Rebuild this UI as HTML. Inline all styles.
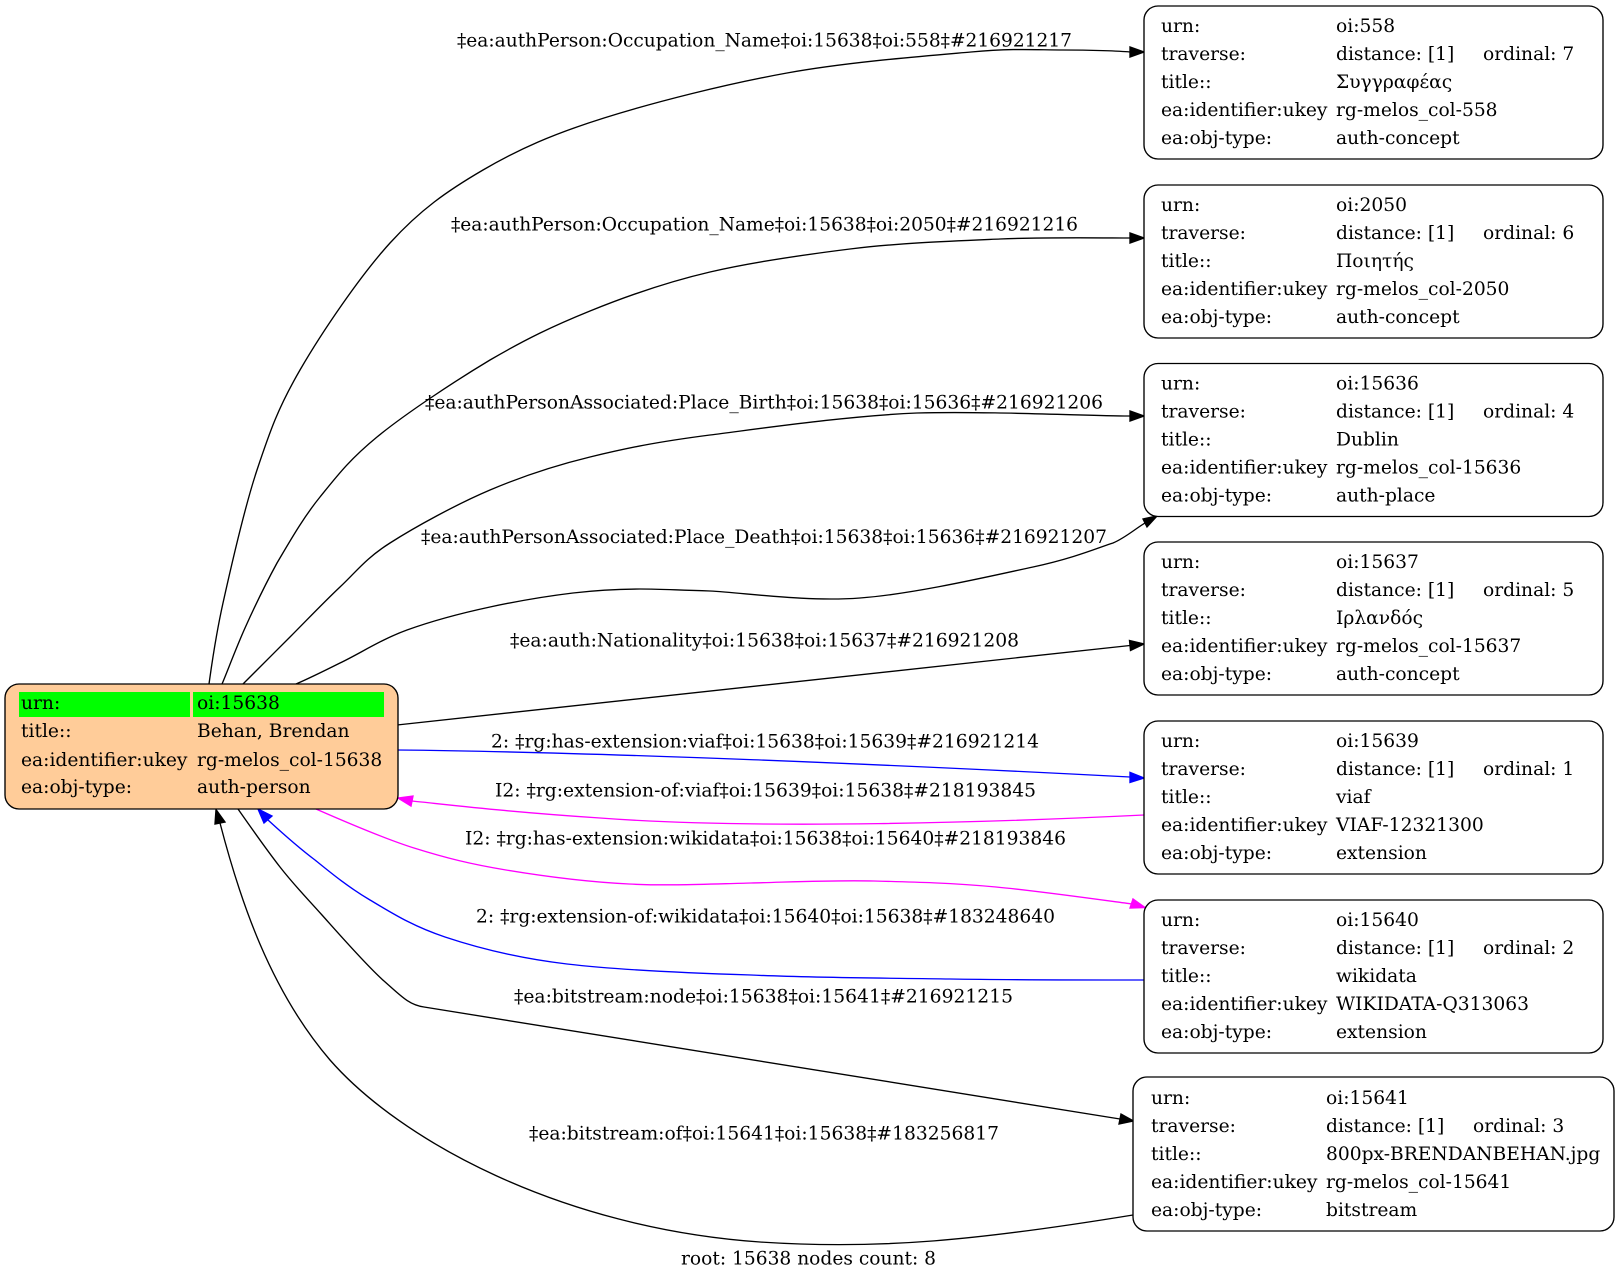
<!DOCTYPE html>
<html>
<head>
<meta charset="utf-8">
<style>
html,body{margin:0;padding:0;background:#fff;}
svg{display:block;}
text{font-family:"DejaVu Serif","Liberation Serif",serif;font-size:18.67px;fill:#000;}
</style>
</head>
<body>
<svg width="1620" height="1280" viewBox="0 0 1620 1280" xmlns="http://www.w3.org/2000/svg">
<rect x="0" y="0" width="1620" height="1280" fill="#fff"/>

<!-- EDGES -->
<g fill="none" stroke-width="1.35">
<!-- 1: 558 -->
<path stroke="#000" d="M209,684 C211,670 215,639 223,603 C231,567 244,509 257,470 C270,431 278,408 300,370 C322,332 360,276 390,243 C420,210 447,191 483,170 C519,149 553,134 604,118 C655,102 726,84 787,73 C848,62 925,56 971,52 C1017,48 1036,50 1063,50 C1090,50 1120,51 1130,52"/>
<!-- 2: 2050 -->
<path stroke="#000" d="M222,684 C226,675 236,648 245,628 C254,608 265,585 277,563 C290,541 303,518 320,497 C337,476 349,460 377,437 C405,414 455,381 490,360 C526,339 553,326 590,311 C627,296 667,282 710,272 C753,262 802,255 850,249 C898,243 953,241 1000,239 C1047,237 1108,238 1130,238"/>
<!-- 3: birth -->
<path stroke="#000" d="M243,684 C251,676 274,653 290,637 C306,621 323,603 340,587 C357,571 365,559 390,543 C415,527 457,504 490,490 C523,476 553,466 590,457 C627,448 656,442 710,435 C765,428 847,416 917,413 C987,411 1094,416 1130,416"/>
<!-- 4: death -->
<path stroke="#000" d="M296,684 C303,681 322,672 340,663 C359,654 382,639 407,630 C432,621 462,613 490,607 C518,601 548,596 573,593 C598,590 617,589 640,589 C663,589 673,590 710,591 C747,593 806,602 860,598 C914,594 991,576 1033,567 C1075,558 1100,547 1113,543 C1125,538 1135,529 1145,523"/>
<!-- 5: nationality -->
<path stroke="#000" d="M397,725 L1130,645.5"/>
<!-- 6: blue viaf -->
<path stroke="#0000ff" d="M397,750 C600,752 900,765 1130,777"/>
<!-- 7: magenta viaf extension-of -->
<path stroke="#ff00ff" d="M1144,815 C1000,822 760,830 600,818 C510,812 460,806 412,801"/>
<!-- 8: magenta wikidata has-extension -->
<path stroke="#ff00ff" d="M316,809 C332,816 382,838 414,848 C446,858 470,864 506,870 C542,876 588,882 629,884 C670,886 710,884 751,883 C792,882 833,880 874,881 C915,882 953,883 996,887 C1039,891 1109,901 1132,904"/>
<!-- 9: blue wikidata extension-of -->
<path stroke="#0000ff" d="M1144,980 C1112,980 1016,980 950,979 C884,978 815,978 751,975 C687,973 618,970 567,964 C516,958 478,948 445,937 C412,926 392,913 370,900 C348,887 331,873 315,860 C299,848 280,831 268,820"/>
<!-- 10: bitstream node -->
<path stroke="#000" d="M238,809 C245,819 266,849 280,867 C294,885 305,896 322,915 C339,934 367,966 384,981 C401,996 409,1005 424,1007 L1120,1119"/>
<!-- 11: bitstream of -->
<path stroke="#000" d="M1133,1215 C980,1240 880,1250 760,1242 C560,1228 400,1140 330,1060 C270,990 240,900 220,823"/>
</g>

<!-- ARROWHEADS -->
<g stroke-width="1.35">
<polygon fill="#000" stroke="#000" points="1144,52 1130,47 1130,57"/>
<polygon fill="#000" stroke="#000" points="1144,238 1130,233 1130,243"/>
<polygon fill="#000" stroke="#000" points="1144,416 1130,411 1130,421"/>
<polygon fill="#000" stroke="#000" points="1157,516 1147,527 1143,519"/>
<polygon fill="#000" stroke="#000" points="1144,644 1130.5,650.5 1129.5,640.5"/>
<polygon fill="#0000ff" stroke="#0000ff" points="1144,778 1130,772.4 1130,782.4"/>
<polygon fill="#ff00ff" stroke="#ff00ff" points="398,798 413,796 411,806"/>
<polygon fill="#ff00ff" stroke="#ff00ff" points="1145,907.5 1130,908 1133,899"/>
<polygon fill="#0000ff" stroke="#0000ff" points="258,809 272,816 264,823"/>
<polygon fill="#000" stroke="#000" points="1133.5,1121 1119,1124 1121,1114"/>
<polygon fill="#000" stroke="#000" points="216,809.5 225,822 215,824"/>
</g>

<!-- EDGE LABELS -->
<g text-anchor="middle">
<text x="764.5" y="46.5" textLength="615" lengthAdjust="spacingAndGlyphs">‡ea:authPerson:Occupation_Name‡oi:15638‡oi:558‡#216921217</text>
<text x="764.5" y="230.5" textLength="627" lengthAdjust="spacingAndGlyphs">‡ea:authPerson:Occupation_Name‡oi:15638‡oi:2050‡#216921216</text>
<text x="764" y="408.3" textLength="678" lengthAdjust="spacingAndGlyphs">‡ea:authPersonAssociated:Place_Birth‡oi:15638‡oi:15636‡#216921206</text>
<text x="764" y="543" textLength="686" lengthAdjust="spacingAndGlyphs">‡ea:authPersonAssociated:Place_Death‡oi:15638‡oi:15636‡#216921207</text>
<text x="764.5" y="646.5" textLength="509" lengthAdjust="spacingAndGlyphs">‡ea:auth:Nationality‡oi:15638‡oi:15637‡#216921208</text>
<text x="765" y="747.5" textLength="548" lengthAdjust="spacingAndGlyphs">2: ‡rg:has-extension:viaf‡oi:15638‡oi:15639‡#216921214</text>
<text x="765.5" y="796.5" textLength="541" lengthAdjust="spacingAndGlyphs">I2: ‡rg:extension-of:viaf‡oi:15639‡oi:15638‡#218193845</text>
<text x="765.5" y="844.5" textLength="601" lengthAdjust="spacingAndGlyphs">I2: ‡rg:has-extension:wikidata‡oi:15638‡oi:15640‡#218193846</text>
<text x="765.5" y="922.5" textLength="579" lengthAdjust="spacingAndGlyphs">2: ‡rg:extension-of:wikidata‡oi:15640‡oi:15638‡#183248640</text>
<text x="763.5" y="1002.5" textLength="499" lengthAdjust="spacingAndGlyphs">‡ea:bitstream:node‡oi:15638‡oi:15641‡#216921215</text>
<text x="764" y="1139.5" textLength="470" lengthAdjust="spacingAndGlyphs">‡ea:bitstream:of‡oi:15641‡oi:15638‡#183256817</text>
<text x="808.5" y="1264.5" textLength="255" lengthAdjust="spacingAndGlyphs">root: 15638 nodes count: 8</text>
</g>

<!-- ROOT NODE -->
<rect x="5" y="684" width="393" height="125" rx="14" ry="14" fill="#ffcc99" stroke="#000" stroke-width="1.35"/>
<rect x="19" y="692" width="171" height="25" fill="#00ff00"/>
<rect x="193" y="692" width="191" height="25" fill="#00ff00"/>
<text x="21" y="709">urn:</text><text x="197" y="709">oi:15638</text>
<text x="21" y="737">title::</text><text x="197" y="737">Behan, Brendan</text>
<text x="21" y="766">ea:identifier:ukey</text><text x="197" y="766">rg-melos_col-15638</text>
<text x="21" y="793">ea:obj-type:</text><text x="197" y="793">auth-person</text>

<!-- RIGHT NODES -->
<g fill="#fff" stroke="#000" stroke-width="1.35">
<rect x="1144" y="6" width="459" height="153" rx="14" ry="14"/>
<rect x="1144" y="185" width="459" height="153" rx="14" ry="14"/>
<rect x="1144" y="363.5" width="459" height="153" rx="14" ry="14"/>
<rect x="1144" y="542" width="459" height="153" rx="14" ry="14"/>
<rect x="1144" y="721" width="459" height="153" rx="14" ry="14"/>
<rect x="1144" y="900" width="459" height="153" rx="14" ry="14"/>
<rect x="1133" y="1077" width="481" height="154" rx="14" ry="14"/>
</g>

<!-- Box 1 -->
<text x="1161" y="32">urn:</text><text x="1336" y="32">oi:558</text>
<text x="1161" y="60">traverse:</text><text x="1336" y="60">distance: [1]</text><text x="1483" y="60">ordinal: 7</text>
<text x="1161" y="88">title::</text><text x="1336" y="88">Συγγραφέας</text>
<text x="1161" y="116">ea:identifier:ukey</text><text x="1336" y="116">rg-melos_col-558</text>
<text x="1161" y="144">ea:obj-type:</text><text x="1336" y="144">auth-concept</text>

<!-- Box 2 -->
<text x="1161" y="211">urn:</text><text x="1336" y="211">oi:2050</text>
<text x="1161" y="239">traverse:</text><text x="1336" y="239">distance: [1]</text><text x="1483" y="239">ordinal: 6</text>
<text x="1161" y="267">title::</text><text x="1336" y="267">Ποιητής</text>
<text x="1161" y="295">ea:identifier:ukey</text><text x="1336" y="295">rg-melos_col-2050</text>
<text x="1161" y="323">ea:obj-type:</text><text x="1336" y="323">auth-concept</text>

<!-- Box 3 -->
<text x="1161" y="389.5">urn:</text><text x="1336" y="389.5">oi:15636</text>
<text x="1161" y="417.5">traverse:</text><text x="1336" y="417.5">distance: [1]</text><text x="1483" y="417.5">ordinal: 4</text>
<text x="1161" y="445.5">title::</text><text x="1336" y="445.5">Dublin</text>
<text x="1161" y="473.5">ea:identifier:ukey</text><text x="1336" y="473.5">rg-melos_col-15636</text>
<text x="1161" y="501.5">ea:obj-type:</text><text x="1336" y="501.5">auth-place</text>

<!-- Box 4 -->
<text x="1161" y="568">urn:</text><text x="1336" y="568">oi:15637</text>
<text x="1161" y="596">traverse:</text><text x="1336" y="596">distance: [1]</text><text x="1483" y="596">ordinal: 5</text>
<text x="1161" y="624">title::</text><text x="1336" y="624">Ιρλανδός</text>
<text x="1161" y="652">ea:identifier:ukey</text><text x="1336" y="652">rg-melos_col-15637</text>
<text x="1161" y="680">ea:obj-type:</text><text x="1336" y="680">auth-concept</text>

<!-- Box 5 -->
<text x="1161" y="747">urn:</text><text x="1336" y="747">oi:15639</text>
<text x="1161" y="775">traverse:</text><text x="1336" y="775">distance: [1]</text><text x="1483" y="775">ordinal: 1</text>
<text x="1161" y="803">title::</text><text x="1336" y="803">viaf</text>
<text x="1161" y="831">ea:identifier:ukey</text><text x="1336" y="831">VIAF-12321300</text>
<text x="1161" y="859">ea:obj-type:</text><text x="1336" y="859">extension</text>

<!-- Box 6 -->
<text x="1161" y="926">urn:</text><text x="1336" y="926">oi:15640</text>
<text x="1161" y="954">traverse:</text><text x="1336" y="954">distance: [1]</text><text x="1483" y="954">ordinal: 2</text>
<text x="1161" y="982">title::</text><text x="1336" y="982">wikidata</text>
<text x="1161" y="1010">ea:identifier:ukey</text><text x="1336" y="1010">WIKIDATA-Q313063</text>
<text x="1161" y="1038">ea:obj-type:</text><text x="1336" y="1038">extension</text>

<!-- Box 7 -->
<text x="1151" y="1104">urn:</text><text x="1326" y="1104">oi:15641</text>
<text x="1151" y="1132">traverse:</text><text x="1326" y="1132">distance: [1]</text><text x="1473" y="1132">ordinal: 3</text>
<text x="1151" y="1160">title::</text><text x="1326" y="1160">800px-BRENDANBEHAN.jpg</text>
<text x="1151" y="1188">ea:identifier:ukey</text><text x="1326" y="1188">rg-melos_col-15641</text>
<text x="1151" y="1216">ea:obj-type:</text><text x="1326" y="1216">bitstream</text>

</svg>
</body>
</html>
